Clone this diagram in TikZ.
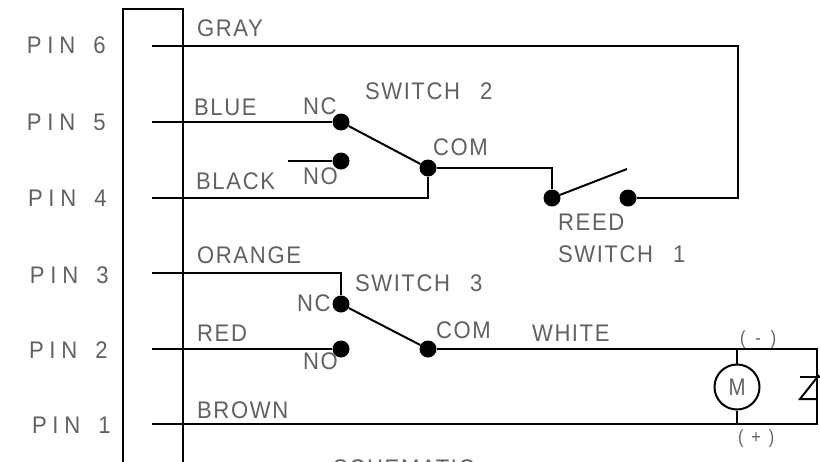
\documentclass[tikz,border=0pt]{standalone}
\usepackage{fontspec}
\setmainfont{Liberation Sans}
\newfontfamily\lblfont[FakeStretch=0.92,LetterSpace=7]{Liberation Sans}
\newfontfamily\pinfont[FakeStretch=0.92,LetterSpace=24]{Liberation Sans}
\newfontfamily\plainfont[FakeStretch=0.85]{Liberation Sans}
\newcommand{\wideI}{\hspace{1.5pt}I\hspace{1.5pt}}
\begin{document}
\begin{tikzpicture}[x=1pt,y=-1pt,
  wire/.style={draw=black,line width=2pt},
  lab/.style={anchor=base west,inner sep=0pt,outer sep=0pt,text=black!62,font=\lblfont\fontsize{24}{24}\selectfont},
  pin/.style={anchor=base west,inner sep=0pt,outer sep=0pt,text=black!62,font=\pinfont\fontsize{24}{24}\selectfont},
  tiny/.style={anchor=base west,inner sep=0pt,outer sep=0pt,text=black!62,font=\plainfont\fontsize{19}{19}\selectfont},
  dot/.style={circle,fill=black,draw=none,minimum size=17pt,inner sep=0pt}]
\useasboundingbox (0,0) rectangle (820,461);
% connector block
\coordinate (bl) at (122.5,470);
\coordinate (tl) at (122.5,9);
\coordinate (tr) at (183,9);
\coordinate (br) at (183,470);
\draw[wire] (bl) -- (tl) -- (tr) -- (br);
% pin starts
\coordinate (p6) at (152,46);
\coordinate (p5) at (152,122);
\coordinate (p4) at (152,198);
\coordinate (p3) at (152,273);
\coordinate (p2) at (152,349);
\coordinate (p1) at (152,424);
% dots
\node[dot] (nc2) at (341,122) {};
\node[dot] (no2) at (341,161) {};
\node[dot] (com2) at (428,168) {};
\node[dot] (nc3) at (341,304) {};
\node[dot] (no3) at (341,349) {};
\node[dot] (com3) at (428,349) {};
\node[dot] (ra) at (552,198) {};
\node[dot] (rb) at (628,198) {};
\coordinate (stub) at (288,161);
\coordinate (tipr) at (627,169);
\coordinate (gr) at (738,46);
\coordinate (gd) at (738,198);
\coordinate (ju) at (552,168);
\coordinate (bk) at (428,198);
\coordinate (og) at (341,273);
\coordinate (wr) at (817,349);
\coordinate (brr) at (817,424);
\node[circle,draw=black,line width=2pt,minimum size=45pt,inner sep=0pt,text=black!62,font=\plainfont\fontsize{24}{24}\selectfont] (m) at (737,387) {M};
\coordinate (mt) at (737,349);
\coordinate (mb) at (737,424);
% wires
\draw[wire] (p6) -- (gr) -- (gd) -- (rb);
\draw[wire] (p5) -- (nc2);
\draw[wire] (stub) -- (no2);
\draw[wire] (p4) -- (bk) -- (com2);
\draw[wire] (nc2) -- (com2);
\draw[wire] (com2) -- (ju) -- (ra);
\draw[wire] (ra) -- (tipr);
\draw[wire] (p3) -- (og) -- (nc3);
\draw[wire] (nc3) -- (com3);
\draw[wire] (p2) -- (no3);
\draw[wire] (com3) -- (wr) -- (brr) -- (p1);
\draw[wire] (mt) -- (m);
\draw[wire] (m) -- (mb);
% zener
\coordinate (z1) at (800,377);
\coordinate (z2) at (822,377);
\coordinate (z3) at (800,399);
\coordinate (z4) at (817,399);
\coordinate (z5) at (819,375);
\draw[wire] (z1) -- (z2);
\draw[wire] (z5) -- (z3) -- (z4);
% labels
\node[pin] (t1) at (27,53) {PIN\hspace{18pt}6};
\node[pin] (t2) at (27,130) {PIN\hspace{18pt}5};
\node[pin] (t3) at (28,206) {PIN\hspace{18pt}4};
\node[pin] (t4) at (30,283) {PIN\hspace{18pt}3};
\node[pin] (t5) at (29,358) {PIN\hspace{18pt}2};
\node[pin] (t6) at (32,433) {PIN\hspace{18pt}1};
\node[lab] (l1) at (197,36) {GRAY};
\node[lab] (l2) at (194,115) {BLUE};
\node[lab] (l3) at (196,189) {BLACK};
\node[lab] (l4) at (197,263) {ORANGE};
\node[lab] (l5) at (197,341) {RED};
\node[lab] (l6) at (197,418) {BROWN};
\node[lab] (l7) at (532,341) {WH\wideI{}TE};
\node[lab] (s2) at (365,99) {SW\wideI{}TCH\hspace{20pt}2};
\node[lab] (s3) at (355,291) {SW\wideI{}TCH\hspace{20pt}3};
\node[lab] (r1) at (558,230) {REED};
\node[lab] (r2) at (558,262) {SW\wideI{}TCH\hspace{20pt}1};
\node[lab] (c1) at (433,155) {COM};
\node[lab] (c2) at (436,338) {COM};
\node[lab] (n1) at (303,114) {NC};
\node[lab] (n2) at (303,184) {NO};
\node[lab] (n3) at (297,311) {NC};
\node[lab] (n4) at (303,369) {NO};
\node[tiny] (ma) at (740,344) {(\hspace{10pt}-\hspace{10pt})};
\node[tiny] (pl) at (738,443) {(\hspace{8pt}+\hspace{8pt})};
\node[lab] (sc) at (333,476) {SCHEMAT\wideI{}C};
\end{tikzpicture}
\end{document}
